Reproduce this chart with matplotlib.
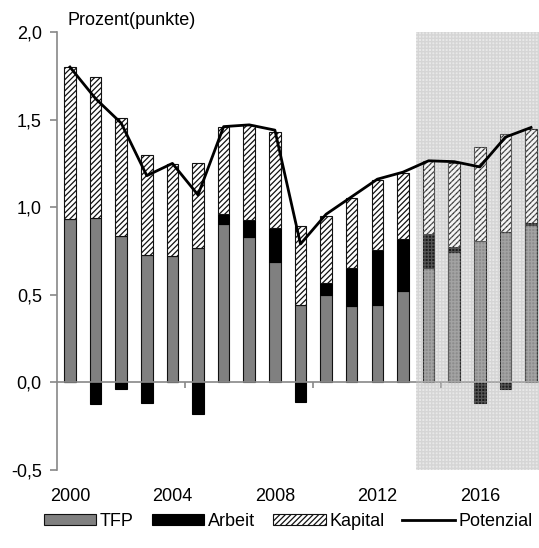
import matplotlib
matplotlib.use("Agg")
import matplotlib.pyplot as plt
import numpy as np

plt.rcParams['font.family'] = ['Liberation Sans', 'DejaVu Sans']
plt.rcParams['hatch.linewidth'] = 0.9
plt.rcParams['hatch.color'] = '#333333'

years = list(range(2000, 2019))
tfp = [0.93, 0.94, 0.835, 0.725, 0.72, 0.765, 0.905, 0.83, 0.685, 0.44,
       0.50, 0.435, 0.44, 0.52, 0.655, 0.745, 0.805, 0.86, 0.90]
arbeit = [0.0, -0.125, -0.035, -0.12, 0.0, -0.18, 0.055, 0.095, 0.195, -0.11,
          0.07, 0.22, 0.315, 0.30, 0.19, 0.03, -0.12, -0.04, 0.01]
kapital = [0.87, 0.806, 0.677, 0.572, 0.524, 0.485, 0.50, 0.543, 0.547, 0.452,
           0.379, 0.40, 0.402, 0.377, 0.417, 0.479, 0.538, 0.559, 0.537]
potenzial = [1.80, 1.62, 1.48, 1.18, 1.25, 1.07, 1.46, 1.47, 1.44, 0.79,
             0.96, 1.06, 1.16, 1.20, 1.265, 1.26, 1.23, 1.40, 1.455]
year_labels = ['2000', '2004', '2008', '2012', '2016']
projection_start = 2014

x = np.arange(len(years))
tfp_a = np.array(tfp)
arb_a = np.array(arbeit)
kap_a = np.array(kapital)
arb_pos = np.clip(arb_a, 0, None)

fig = plt.figure(figsize=(5.39, 5.48), dpi=100)
ax = fig.add_axes([0.106, 0.1423, 0.903, 0.7993])

w = 0.45
edge = '#111111'
h_tfp = ax.bar(x, tfp_a, w, color='#808080', edgecolor=edge, linewidth=0.8,
               label='TFP', zorder=2)
h_arb = ax.bar(x, arb_a, w, bottom=np.where(arb_a > 0, tfp_a, 0),
               color='black', edgecolor='black', linewidth=0.8,
               label='Arbeit', zorder=2)
h_kap = ax.bar(x, kap_a, w, bottom=tfp_a + arb_pos, color='white',
               edgecolor=edge, hatch='//////', linewidth=0.8,
               label='Kapital', zorder=2)
h_pot, = ax.plot(x, potenzial, color='black', linewidth=2.0,
                 label='Potenzial', zorder=6)

# projection period shading
p0 = years.index(projection_start) - 0.5
ax.axvspan(p0, len(years) - 0.5, facecolor='#e9e9e9', edgecolor='#d2d2d2',
           hatch='+++++', linewidth=0, zorder=0)
ax.axvspan(p0, len(years) - 0.5, facecolor=(0.9, 0.9, 0.9, 0.12),
           edgecolor=(0.85, 0.85, 0.85, 0.3), hatch='+++++', linewidth=0,
           zorder=4)

ax.set_xlim(-0.5, len(years) - 0.5)
ax.set_ylim(-0.5, 2.0)

axis_col = '#888888'
for s in ['top', 'right']:
    ax.spines[s].set_visible(False)
ax.spines['left'].set_color(axis_col)
ax.spines['left'].set_linewidth(1.2)
ax.spines['bottom'].set_position(('data', 0))
ax.spines['bottom'].set_color(axis_col)
ax.spines['bottom'].set_linewidth(1.2)
ax.spines['bottom'].set_zorder(3)

yt = [-0.5, 0.0, 0.5, 1.0, 1.5, 2.0]
ax.set_yticks(yt)
ax.set_yticklabels([f'{v:.1f}'.replace('.', ',') for v in yt])
ax.tick_params(axis='y', length=5, width=1.2, color=axis_col, labelsize=13,
               pad=6)

ax.set_xticks([years.index(int(l)) for l in year_labels])
ax.set_xticklabels(year_labels)
ax.set_xticks([4.5, 9.5, 14.5], minor=True)
ax.tick_params(axis='x', which='major', length=0, labelsize=13, pad=76)
ax.tick_params(axis='x', which='minor', length=4, width=1.2, color=axis_col)

fig.text(0.126, 0.962, 'Prozent(punkte)', fontsize=13, ha='left', va='center')

fig.legend([h_tfp, h_arb, h_kap, h_pot], ['TFP', 'Arbeit', 'Kapital', 'Potenzial'],
           loc='center', bbox_to_anchor=(0.535, 0.049), ncol=4, frameon=False,
           fontsize=13, handlelength=2.9, handleheight=0.6, handletextpad=0.2,
           columnspacing=1.0)

fig.savefig('out.png', dpi=100)
